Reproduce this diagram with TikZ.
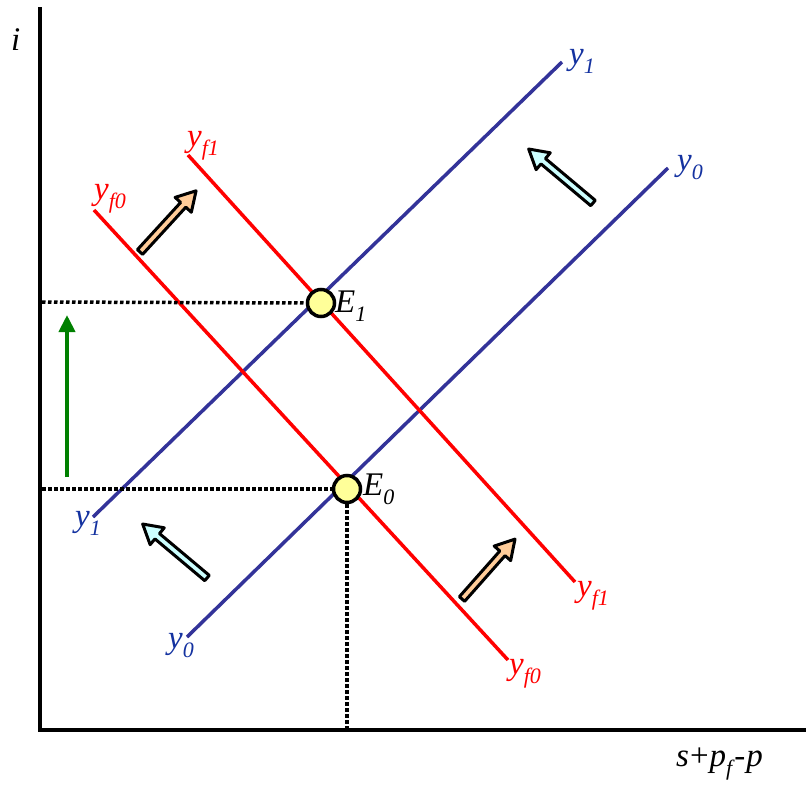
\documentclass[tikz,border=0pt]{standalone}
\usepackage{fontspec}
\setmainfont{Liberation Serif}
\usetikzlibrary{arrows.meta}
\definecolor{lineblue}{RGB}{51,51,153}
\definecolor{labelblue}{RGB}{20,50,160}
\definecolor{linered}{RGB}{255,0,0}
\definecolor{cyanfill}{RGB}{204,255,255}
\definecolor{orangefill}{RGB}{255,204,153}
\definecolor{circfill}{RGB}{255,255,153}
\definecolor{arrowgreen}{RGB}{0,128,0}
\newcommand\sbs[1]{\raisebox{-0.3em}{\fontsize{22}{22}\selectfont\itshape #1}}
\newcommand\blockarr[4]{%
  \begin{scope}[shift={#1}, rotate=#2]
    \draw[blockstyle, fill=#4] (0,-3.5) -- (#3-19,-3.5) -- (#3-19,-11) -- (#3,0)
      -- (#3-19,11) -- (#3-19,3.5) -- (0,3.5) -- cycle;
  \end{scope}}
\tikzset{
  axisline/.style={line width=4pt, black},
  bluecurve/.style={line width=3.5pt, lineblue},
  redcurve/.style={line width=3.5pt, linered},
  dotline/.style={line width=3.5pt, black, dash pattern=on 3.5pt off 2.5pt},
  eqpt/.style={circle, draw=black, line width=3.5pt, fill=circfill, minimum size=27pt, inner sep=0pt},
  lbl/.style={font=\fontsize{33}{33}\selectfont\itshape, inner sep=0pt, anchor=base west},
  bluelbl/.style={lbl, text=labelblue},
  redlbl/.style={lbl, text=linered},
  blockstyle/.style={draw=black, line width=3pt, line join=round},
}
\begin{document}
\begin{tikzpicture}[x=1pt, y=-1pt]
\useasboundingbox (0,0) rectangle (806,785);
% coordinates
\coordinate (ytop) at (40,7);
\coordinate (origin) at (40,730);
\coordinate (xend) at (806,730);
\coordinate (y1a) at (93,517);
\coordinate (y1b) at (562,62);
\coordinate (y0a) at (187,637);
\coordinate (y0b) at (668,168);
\coordinate (yf1a) at (188,155);
\coordinate (yf1b) at (575,582);
\coordinate (yf0a) at (94,210);
\coordinate (yf0b) at (508,660);
\coordinate (d1) at (42,302);
\coordinate (d0) at (42,489);
\coordinate (dx) at (347,730);
\coordinate (gA) at (67,477);
\coordinate (gB) at (67,315);
% axes
\draw[axisline] (ytop) -- (40,732);
\draw[axisline] (38,730) -- (xend);
% curves
\draw[bluecurve] (y1a) -- (y1b);
\draw[bluecurve] (y0a) -- (y0b);
\draw[redcurve] (yf1a) -- (yf1b);
\draw[redcurve] (yf0a) -- (yf0b);
% equilibrium points
\node[eqpt] (E1) at (321,303) {};
\node[eqpt] (E0) at (347,489) {};
% dotted lines
\draw[dotline] (d1) -- (E1.west);
\draw[dotline] (d0) -- (E0.west);
\draw[dotline] (E0.south) -- (dx);
% green arrow
\draw[arrowgreen, line width=4pt, -{Triangle[length=17pt,width=16pt]}] (gA) -- (gB);
% block arrows
\blockarr{(140,252)}{47.5}{83}{orangefill}
\blockarr{(462,599)}{48.5}{80}{orangefill}
\blockarr{(593,203)}{140}{84}{cyanfill}
\blockarr{(207,578)}{140}{84}{cyanfill}
% labels
\node[lbl] (li) at (11,50) {i};
\node[lbl] (lx) at (676,766) {s\kern1pt\textup{+}\kern1pt p\sbs{f}\kern2pt-\kern1pt p};
\node[lbl] (lE1) at (335,312) {E\sbs{1}};
\node[lbl] (lE0) at (363,495) {E\sbs{0}};
\node[bluelbl] (ly1t) at (569,64) {y\sbs{1}};
\node[bluelbl] (ly0t) at (677,170) {y\sbs{0}};
\node[bluelbl] (ly1b) at (75,526) {y\sbs{1}};
\node[bluelbl] (ly0b) at (168,648) {y\sbs{0}};
\node[redlbl] (lyf1t) at (187,146) {y\sbs{f1}};
\node[redlbl] (lyf0t) at (94,199) {y\sbs{f0}};
\node[redlbl] (lyf1b) at (577,596) {y\sbs{f1}};
\node[redlbl] (lyf0b) at (509,674) {y\sbs{f0}};
\end{tikzpicture}
\end{document}
